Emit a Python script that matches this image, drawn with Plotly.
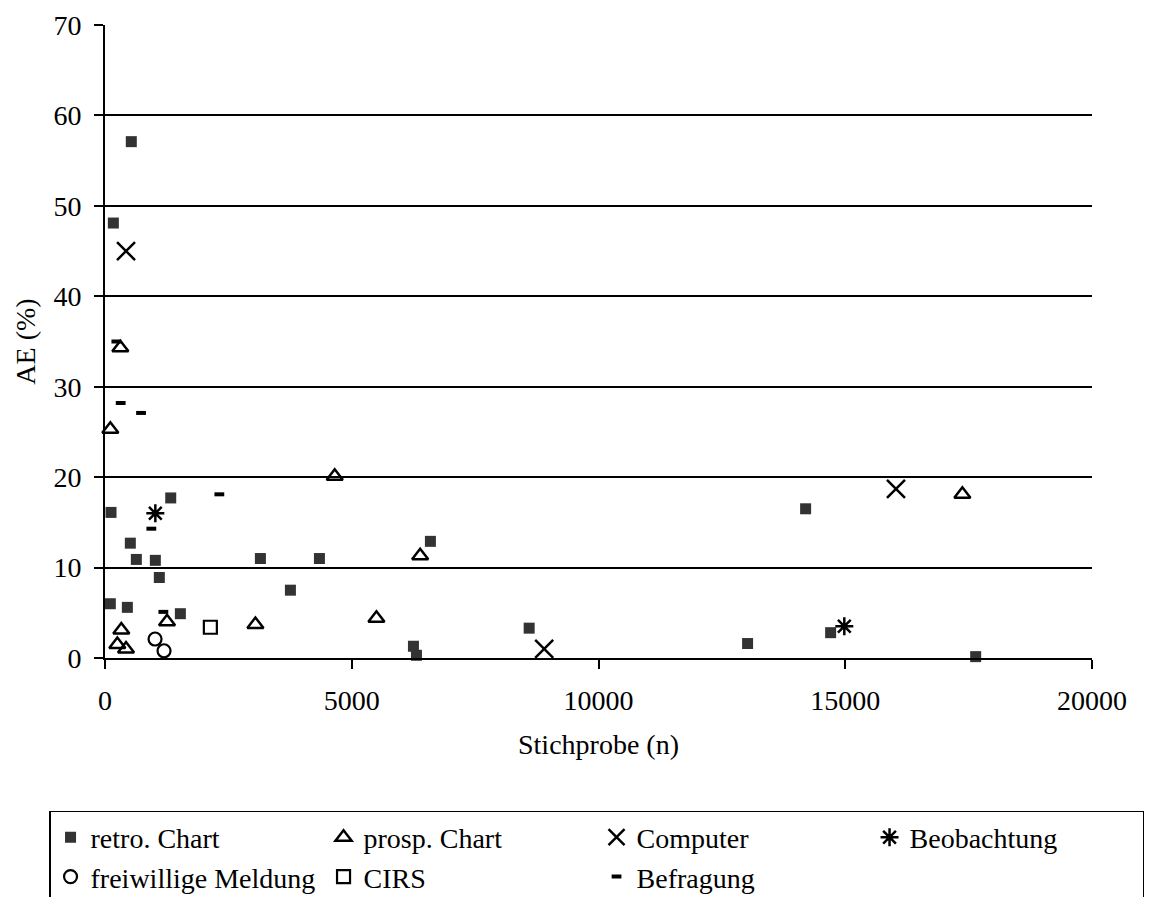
import plotly.graph_objects as go

# ---- data (Stichprobe n, AE %) ----
retro_n = [533, 169, 1332, 122, 513, 635, 1020, 1101, 3149, 4345, 6594, 3757, 108, 453, 1527, 6250, 6311, 8595, 13021, 14197, 14704, 17643]
retro_ae = [57.1, 48.1, 17.7, 16.1, 12.7, 10.9, 10.8, 8.9, 11.0, 11.0, 12.9, 7.5, 6.0, 5.6, 4.9, 1.3, 0.3, 3.3, 1.6, 16.5, 2.8, 0.15]

prosp_n = [311, 108, 1257, 331, 250, 426, 3048, 4655, 6386, 5500, 17373]
prosp_ae = [34.3, 25.3, 4.0, 3.1, 1.5, 1.0, 3.7, 20.1, 11.3, 4.4, 18.1]

computer_n = [426, 8899, 16028]
computer_ae = [45.0, 1.0, 18.7]

beob_n = [1020, 14981]
beob_ae = [16.0, 3.5]

frei_n = [1014, 1196]
frei_ae = [2.1, 0.8]

cirs_n = [2135]
cirs_ae = [3.4]

befr_n = [230, 318, 730, 2317, 939, 1183]
befr_ae = [35.0, 28.2, 27.1, 18.1, 14.3, 5.1]

x_ticks = [0, 5000, 10000, 15000, 20000]
y_ticks = [0, 10, 20, 30, 40, 50, 60, 70]

FONT = "Liberation Serif"

fig = go.Figure()

def add(name, xs, ys, symbol, size, color="black", lw=2.0, fill=None):
    fig.add_trace(go.Scatter(
        x=xs, y=ys, mode="markers", name=name, cliponaxis=False,
        marker=dict(symbol=symbol, size=size, color=fill if fill else color,
                    line=dict(color=color, width=lw)),
    ))

add("retro. Chart", retro_n, retro_ae, "square", 11, color="#333333", lw=0, fill="#333333")
add("prosp. Chart", prosp_n, prosp_ae, "triangle-up-open", 14, lw=2.5)
add("Computer", computer_n, computer_ae, "x-thin-open", 18, lw=2.5)
add("Beobachtung", beob_n, beob_ae, "asterisk-open", 15, lw=2.5)
add("freiwillige Meldung", frei_n, frei_ae, "circle-open", 13, lw=2.2)
add("CIRS", cirs_n, cirs_ae, "square-open", 13, lw=2.2)
add("Befragung", befr_n, befr_ae, "line-ew-open", 7, lw=4)

fig.update_layout(
    width=1155, height=897,
    margin=dict(l=105, r=63, t=25, b=239, autoexpand=False),
    paper_bgcolor="white", plot_bgcolor="white",
    font=dict(family=FONT, size=28, color="black"),
    showlegend=True,
    legend=dict(
        orientation="h", x=-0.0567, xanchor="left", y=-0.2417, yanchor="top",
        bordercolor="black", borderwidth=1.5, bgcolor="white",
        entrywidth=228, entrywidthmode="pixels",
        font=dict(family=FONT, size=28, color="black"),
        traceorder="normal",
    ),
)

fig.update_xaxes(
    range=[0, 20000], tickvals=x_ticks, ticktext=[str(v) for v in x_ticks],
    showgrid=False, zeroline=False,
    showline=True, linecolor="black", linewidth=2,
    ticks="outside", ticklen=9, tickwidth=2, tickcolor="black",
    ticklabelstandoff=7,
    title=dict(text="Stichprobe (n)", font=dict(family=FONT, size=28), standoff=20),
)
fig.update_yaxes(
    range=[0, 70], tickvals=y_ticks, ticktext=[str(v) for v in y_ticks],
    showgrid=True, gridcolor="black", gridwidth=2, zeroline=False,
    showline=True, linecolor="black", linewidth=2,
    ticks="outside", ticklen=9, tickwidth=2, tickcolor="black",
    ticklabelstandoff=7,
    title=dict(text="AE (%)", font=dict(family=FONT, size=28), standoff=10),
)

fig.write_html("out.html")
